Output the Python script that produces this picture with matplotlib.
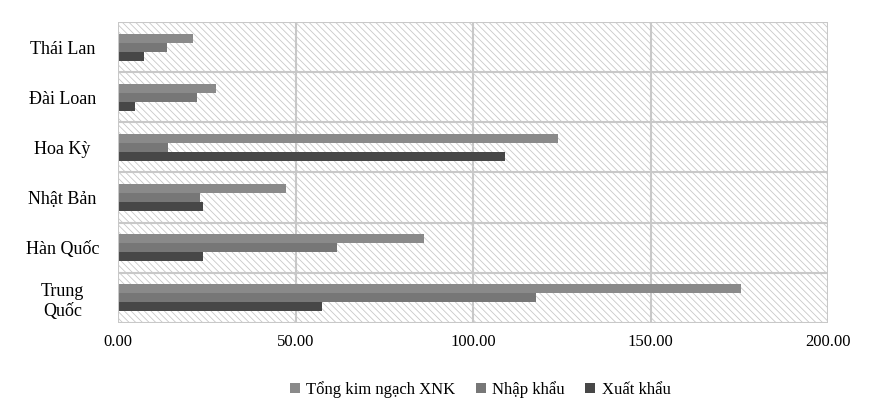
import numpy as np
import matplotlib.pyplot as plt
from matplotlib.patches import Rectangle

plt.rcParams['font.family'] = ['Liberation Serif', 'DejaVu Serif']
plt.rcParams['hatch.linewidth'] = 0.6
plt.rcParams['hatch.color'] = '#c8c8c8'

countries = ['Trung\nQuốc', 'Hàn Quốc', 'Nhật Bản', 'Hoa Kỳ', 'Đài Loan', 'Thái Lan']
tong = [175.5, 86.2, 47.3, 124.0, 27.6, 21.1]
nhap = [117.7, 61.7, 23.1, 14.1, 22.3, 13.8]
xuat = [57.5, 24.0, 24.0, 109.0, 4.8, 7.3]

fig = plt.figure(figsize=(8.73, 4.13), dpi=100)
ax = fig.add_axes([118/873, 1-323/413, 710/873, 301/413])
ax.add_patch(Rectangle((0, 0), 1, 1, transform=ax.transAxes, facecolor='white',
                       edgecolor='#c8c8c8', hatch='\\\\\\\\\\', lw=0, zorder=0))

y = np.arange(len(countries))
h = 0.18
ax.barh(y + h, tong, h, color='#8a8a8a', label='Tổng kim ngạch XNK', zorder=3)
ax.barh(y, nhap, h, color='#777777', label='Nhập khẩu', zorder=3)
ax.barh(y - h, xuat, h, color='#474747', label='Xuất khẩu', zorder=3)

ax.set_xlim(0, 200)
ax.set_ylim(-0.5, len(countries) - 0.5)
ax.set_xticks([0, 50, 100, 150, 200])
ax.set_xticklabels(['%.2f' % v for v in [0, 50, 100, 150, 200]])
ax.set_yticks(y)
ax.set_yticklabels(countries, ha='center')
ax.tick_params(axis='y', pad=40, length=0, labelsize=13)
ax.tick_params(axis='x', length=0, labelsize=12, pad=8)
for b in np.arange(-0.5, len(countries), 1):
    ax.axhline(b, color='#c8c8c8', lw=1.5, zorder=1)
for v in [50, 100, 150, 200]:
    ax.axvline(v, color='#c8c8c8', lw=1.5, zorder=1)
for s in ax.spines.values():
    s.set_visible(False)
ax.axvline(0, color='#c8c8c8', lw=1.5, zorder=4)

fig.legend(loc='lower center', bbox_to_anchor=(0.55, 0.0), ncol=3, frameon=False,
           fontsize=12, handlelength=0.6, handleheight=0.6, columnspacing=1.2, handletextpad=0.4)
plt.savefig('out.png', dpi=100)
